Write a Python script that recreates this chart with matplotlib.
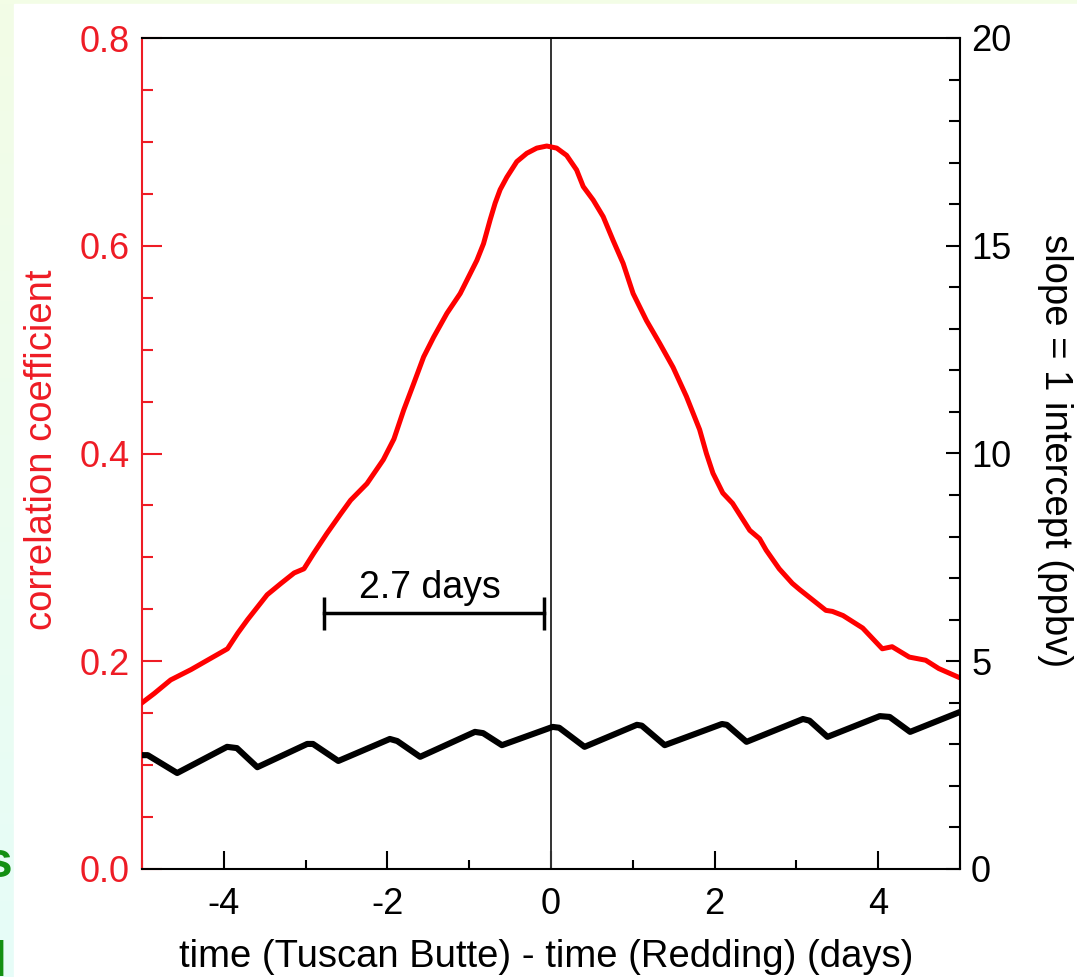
import numpy as np
import matplotlib
matplotlib.use('Agg')
import matplotlib.pyplot as plt
from matplotlib.patches import Rectangle
from matplotlib.ticker import MultipleLocator
from matplotlib.colors import LinearSegmentedColormap

plt.rcParams['font.family'] = ['Liberation Sans', 'DejaVu Sans']
plt.rcParams['axes.unicode_minus'] = False

# ---- data ----
lag_days = [-5.0, -4.85, -4.65, -4.40, -4.20, -3.955, -3.83, -3.71, -3.59, -3.47,
            -3.30, -3.14, -3.02, -2.90, -2.74, -2.57, -2.45, -2.25, -2.05, -1.92,
            -1.80, -1.68, -1.557, -1.435, -1.272, -1.11, -1.008, -0.906, -0.825,
            -0.744, -0.683, -0.622, -0.54, -0.418, -0.296, -0.174, -0.052, 0.07,
            0.191, 0.313, 0.394, 0.516, 0.638, 0.76, 0.882, 1.004, 1.167, 1.329,
            1.492, 1.655, 1.817, 1.90, 1.98, 2.10, 2.22, 2.26, 2.43, 2.55, 2.63,
            2.79, 2.95, 3.04, 3.20, 3.36, 3.44, 3.57, 3.81, 4.05, 4.17, 4.38,
            4.58, 4.74, 5.0]
correlation = [0.160, 0.169, 0.182, 0.192, 0.201, 0.212, 0.227, 0.240, 0.252, 0.264,
               0.275, 0.285, 0.289, 0.304, 0.323, 0.342, 0.355, 0.371, 0.394, 0.414,
               0.442, 0.467, 0.493, 0.512, 0.535, 0.554, 0.570, 0.586, 0.602,
               0.625, 0.641, 0.654, 0.666, 0.681, 0.689, 0.694, 0.696, 0.694,
               0.687, 0.673, 0.657, 0.644, 0.628, 0.605, 0.583, 0.554, 0.528, 0.506,
               0.483, 0.455, 0.423, 0.400, 0.381, 0.362, 0.352, 0.347, 0.326, 0.318,
               0.307, 0.289, 0.275, 0.269, 0.259, 0.249, 0.248, 0.244, 0.232, 0.212,
               0.214, 0.204, 0.201, 0.193, 0.184]

lag_days_intercept = [-5.0, -4.93, -4.57, -3.96, -3.84, -3.59, -2.98, -2.91, -2.60,
                      -1.97, -1.88, -1.60, -0.93, -0.83, -0.60, 0.02, 0.10, 0.41,
                      1.05, 1.11, 1.39, 2.09, 2.15, 2.39, 3.08, 3.16, 3.38, 4.02,
                      4.14, 4.39, 5.0]
intercept_ppbv = [2.74, 2.74, 2.31, 2.94, 2.91, 2.45, 3.01, 3.01, 2.60,
                  3.13, 3.08, 2.70, 3.30, 3.27, 2.98, 3.42, 3.40, 2.94,
                  3.47, 3.45, 2.98, 3.49, 3.47, 3.06, 3.61, 3.57, 3.18, 3.68,
                  3.66, 3.30, 3.78]

x_ticks = [-4, -2, 0, 2, 4]
x_tick_labels = ['-4', '-2', '0', '2', '4']
left_ticks = [0.0, 0.2, 0.4, 0.6, 0.8]
left_tick_labels = ['0.0', '0.2', '0.4', '0.6', '0.8']
right_ticks = [0, 5, 10, 15, 20]
right_tick_labels = ['0', '5', '10', '15', '20']

lag_marker_start = -2.78
lag_marker_end = -0.08
lag_marker_level = 0.246
lag_label = '2.7 days'

RED = '#EE1C25'
CURVE_RED = '#FF0000'

W, H = 1077, 977
fig = plt.figure(figsize=(W / 100, H / 100), dpi=100)

# background (slide remnant)
bg = fig.add_axes([0, 0, 1, 1], zorder=-10)
grad = np.linspace(0, 1, 256).reshape(-1, 1)
cmap = LinearSegmentedColormap.from_list('bg', ['#F3FDE6', '#E6FCF8'])
bg.imshow(grad, aspect='auto', cmap=cmap, extent=[0, 1, 0, 1], origin='upper')
bg.add_patch(Rectangle((14 / W, 0), 1 - 14 / W, (H - 4) / H, color='white',
                       transform=bg.transAxes))
bg.set_xlim(0, 1)
bg.set_ylim(0, 1)
bg.axis('off')

fig.text(12 / W, 1 - 864 / H, 's', ha='right', va='center', fontsize=36,
         fontweight='bold', color='#139013')
fig.text(6 / W, 1 / H, 'l', ha='right', va='baseline', fontsize=36,
         fontweight='bold', color='#139013')

ax = fig.add_axes([142 / W, (H - 869) / H, 818 / W, 831 / H])
ax2 = ax.twinx()

ax.plot(lag_days, correlation, color=CURVE_RED, lw=3.6, solid_joinstyle='round', zorder=3)
ax2.plot(lag_days_intercept, intercept_ppbv, color='black', lw=4.4, solid_joinstyle='round')
ax.axvline(0, color='#333333', lw=1.4, zorder=2)

# lag marker
ax.plot([lag_marker_start, lag_marker_end], [lag_marker_level, lag_marker_level],
        color='black', lw=2.5)
ax.vlines([lag_marker_start, lag_marker_end], lag_marker_level - 0.016,
          lag_marker_level + 0.016, color='black', lw=2.5)
ax.text((lag_marker_start + lag_marker_end) / 2 - 0.05, lag_marker_level + 0.015,
        lag_label, ha='center', va='baseline', fontsize=27)

ax.set_xlim(-5, 5)
ax.set_ylim(0, 0.8)
ax2.set_ylim(0, 20)

for s in ['top', 'bottom', 'left']:
    ax.spines[s].set_linewidth(1.5)
ax.spines['left'].set_color(RED)
ax.spines['right'].set_visible(False)
for s in ['left', 'top', 'bottom']:
    ax2.spines[s].set_visible(False)
ax2.spines['right'].set_linewidth(1.5)
ax2.spines['right'].set_color('black')

ax.set_xticks(x_ticks)
ax.set_xticklabels(x_tick_labels)
ax.xaxis.set_minor_locator(MultipleLocator(1))
ax.tick_params(axis='x', which='both', direction='in', top=False, width=1.5,
               labelsize=26, pad=13)
ax.tick_params(axis='x', which='major', length=13)
ax.tick_params(axis='x', which='minor', length=6.5)

ax.set_yticks(left_ticks)
ax.set_yticklabels(left_tick_labels)
ax.yaxis.set_minor_locator(MultipleLocator(0.05))
ax.tick_params(axis='y', which='both', direction='in', colors=RED, width=1.5,
               labelsize=26, pad=8.6, right=False)
ax.tick_params(axis='y', which='major', length=14.4)
ax.tick_params(axis='y', which='minor', length=8)

ax2.set_yticks(right_ticks)
ax2.set_yticklabels(right_tick_labels)
ax2.yaxis.set_minor_locator(MultipleLocator(1))
ax2.tick_params(axis='y', which='both', direction='in', width=1.5, labelsize=26,
                pad=8, colors='black')
ax2.tick_params(axis='y', which='major', length=10)
ax2.tick_params(axis='y', which='minor', length=8)

fig.text(42 / W, 1 - 450 / H, 'correlation coefficient', rotation=90,
         ha='center', va='center', fontsize=27.5, color=RED)
fig.text(1055 / W, 1 - 451 / H, 'slope = 1 intercept (ppbv)', rotation=270,
         ha='center', va='center', fontsize=27.5, color='black')
fig.text(546 / W, 1 - 957 / H, 'time (Tuscan Butte) - time (Redding) (days)',
         ha='center', va='center', fontsize=27.5, color='black')

fig.savefig('out.png', dpi=100)
